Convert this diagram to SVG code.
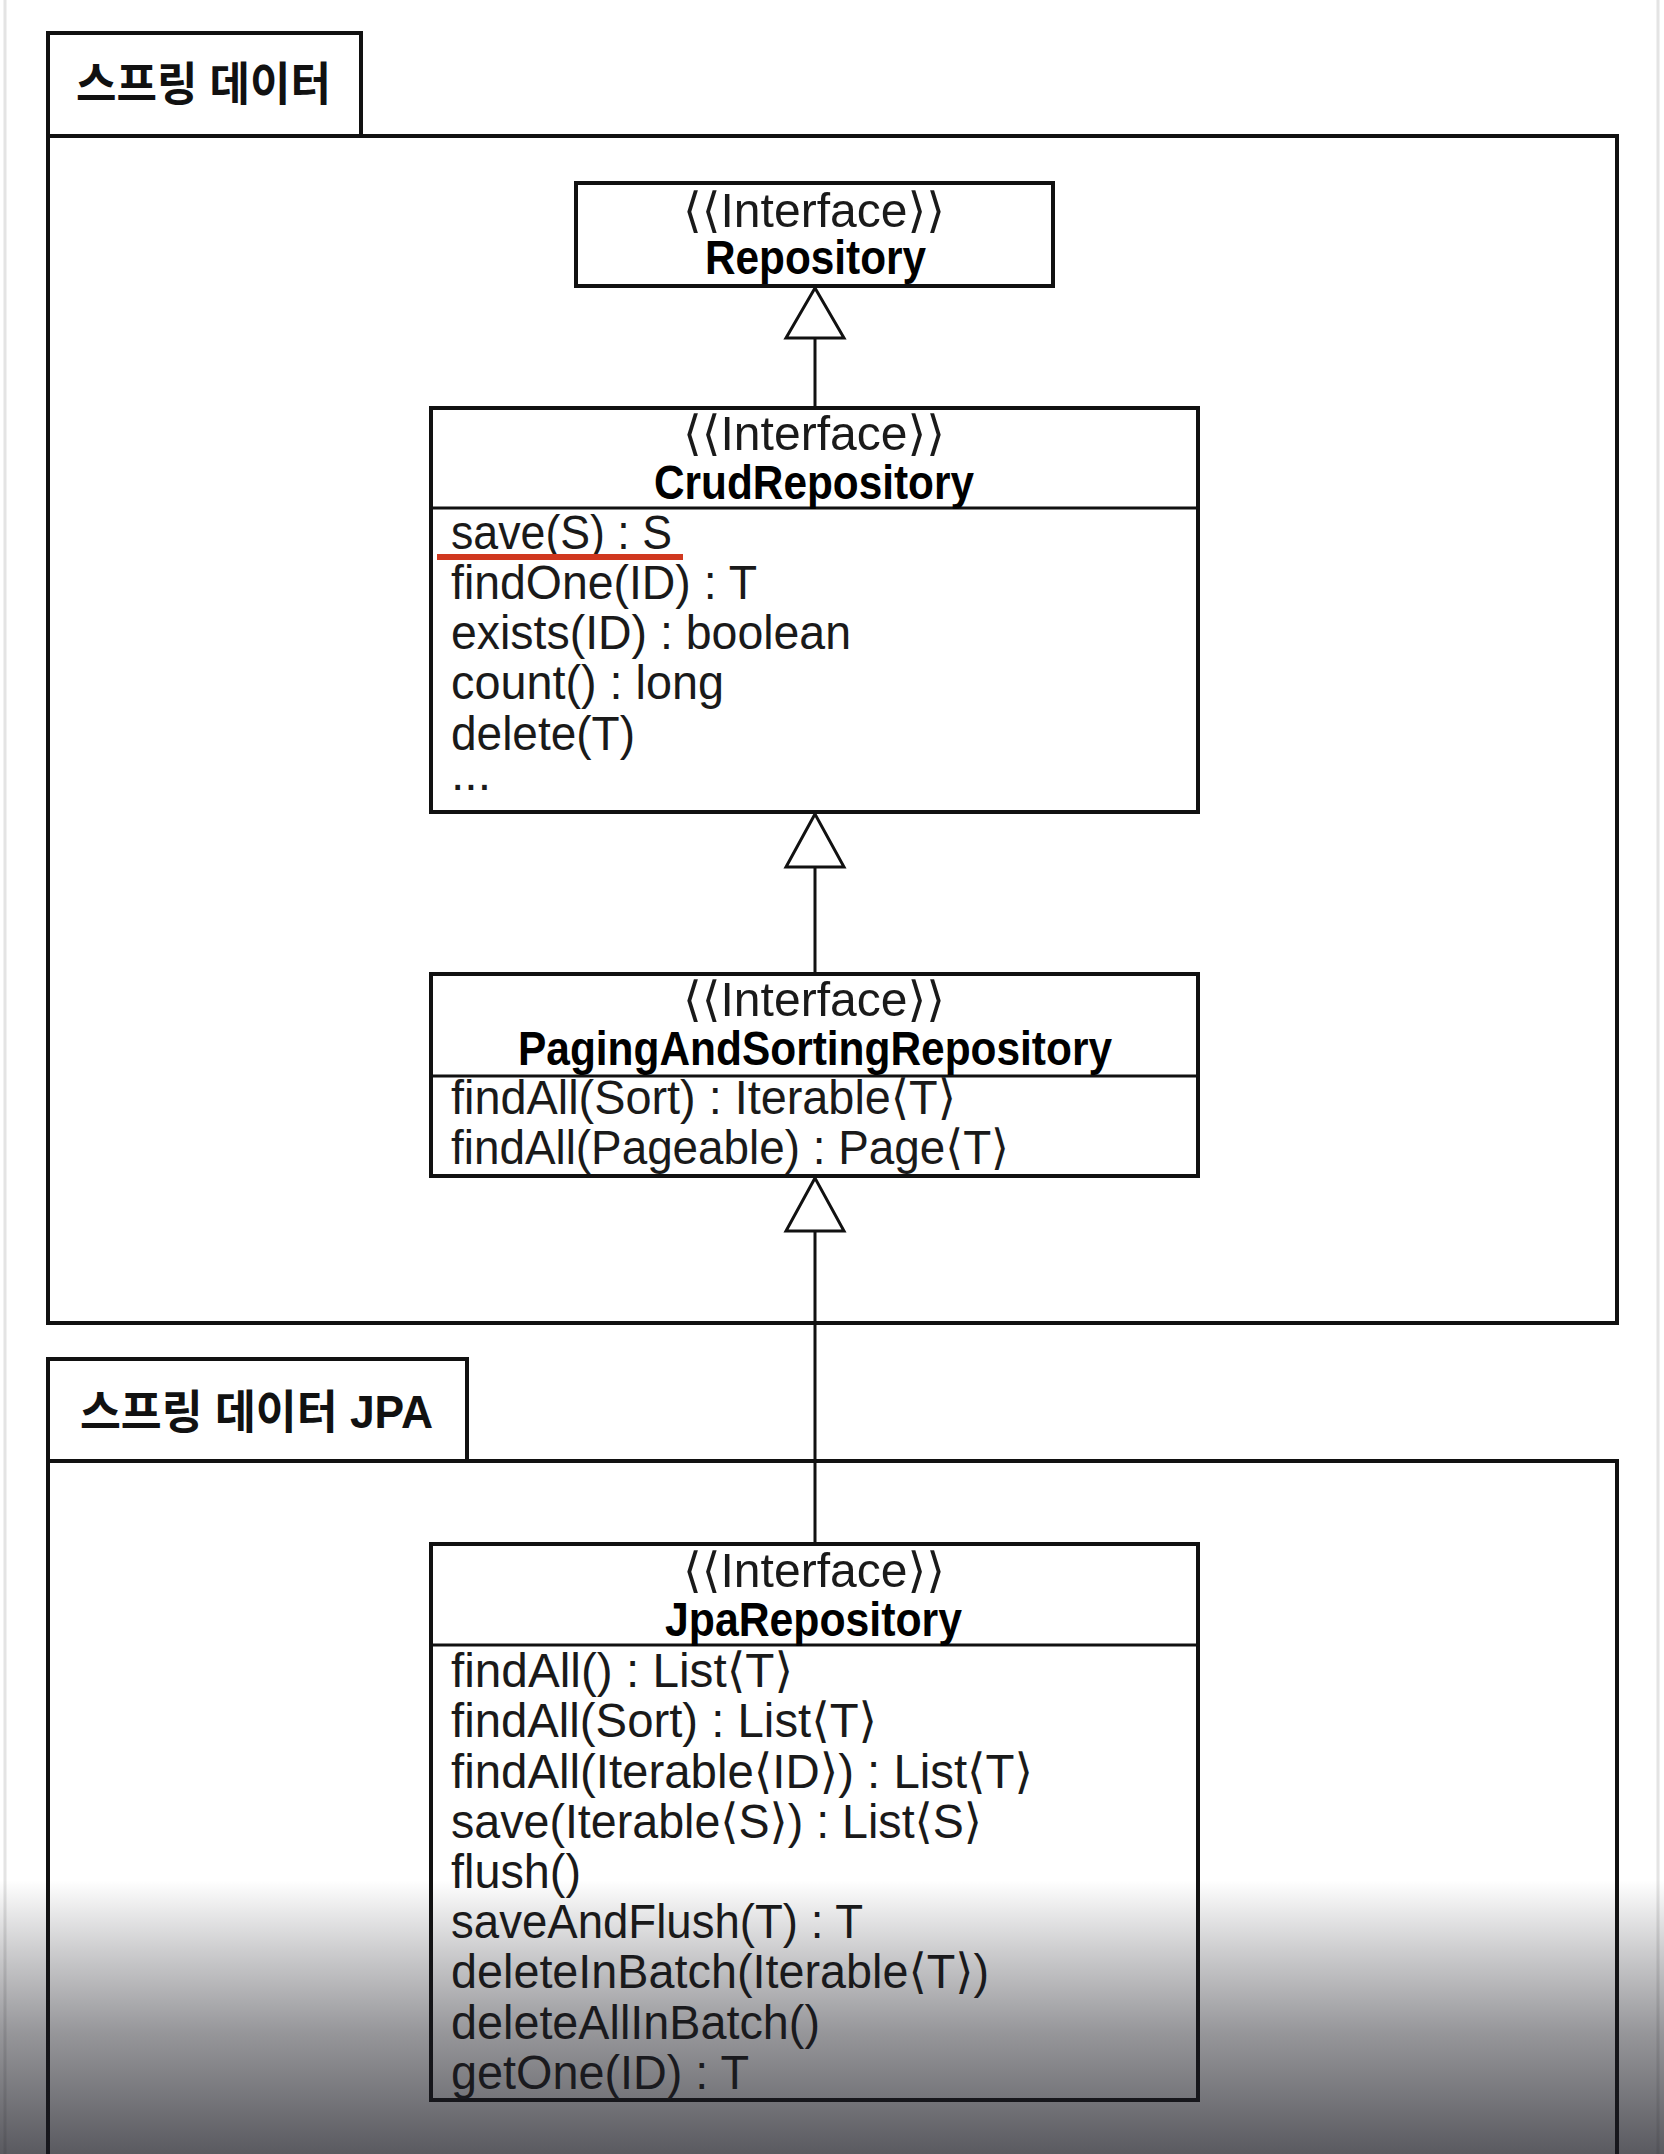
<svg xmlns="http://www.w3.org/2000/svg" width="1664" height="2154" viewBox="0 0 1664 2154">
<style>
.frame{fill:none;stroke:#111;stroke-width:4}
.box{fill:#fff;stroke:#111;stroke-width:4}
.div{stroke:#111;stroke-width:3}
.conn{stroke:#111;stroke-width:3;fill:none}
.tri{fill:#fff;stroke:#111;stroke-width:3;stroke-linejoin:miter}
.ko{font-family:"Liberation Sans","Noto Sans CJK KR",sans-serif;font-weight:bold;font-size:46px;fill:#111}
.st{font-family:"Liberation Sans","DejaVu Sans",sans-serif;font-size:48px;fill:#1a1a1a}
.ti{font-family:"Liberation Sans","DejaVu Sans",sans-serif;font-size:48px;font-weight:bold;fill:#000}
.m{font-family:"Liberation Sans","DejaVu Sans",sans-serif;font-size:48px;fill:#1a1a1a}
</style>
<defs>
<linearGradient id="shade" x1="0" y1="0" x2="0" y2="1">
<stop offset="0" stop-color="#1a1a22" stop-opacity="0"/>
<stop offset="0.26" stop-color="#1a1a22" stop-opacity="0.22"/>
<stop offset="0.56" stop-color="#1a1a22" stop-opacity="0.46"/>
<stop offset="1" stop-color="#1a1a22" stop-opacity="0.72"/>
</linearGradient>
</defs>
<rect x="0" y="0" width="1664" height="2154" fill="#fff"/>
<line x1="5" y1="0" x2="5" y2="2154" stroke="#e4e4e4" stroke-width="3"/>
<line x1="1658" y1="0" x2="1658" y2="2154" stroke="#e4e4e4" stroke-width="3"/>

<g id="pkg-spring-data">
<rect class="frame" x="48" y="33" width="313" height="103"/>
<rect class="frame" x="48" y="136" width="1569" height="1187"/>
<text class="ko" x="76" y="100" textLength="255" lengthAdjust="spacingAndGlyphs">스프링 데이터</text>
</g>

<g id="pkg-spring-data-jpa">
<rect class="frame" x="48" y="1359" width="419" height="102"/>
<path class="frame" d="M48 2160 V1461 H1617 V2160"/>
<text class="ko" x="80" y="1428" textLength="353" lengthAdjust="spacingAndGlyphs">스프링 데이터 JPA</text>
</g>

<g id="connectors">
<line class="conn" x1="815" y1="338" x2="815" y2="408"/>
<polygon class="tri" points="815,288 786,338 844,338"/>
<line class="conn" x1="815" y1="867" x2="815" y2="974"/>
<polygon class="tri" points="815,814 786,867 844,867"/>
<line class="conn" x1="815" y1="1231" x2="815" y2="1544"/>
<polygon class="tri" points="815,1178 786,1231 844,1231"/>
</g>

<g id="node-repository">
<rect class="box" x="576" y="183" width="477" height="103"/>
<text class="st" x="683" y="227" textLength="262" lengthAdjust="spacingAndGlyphs">⟨⟨Interface⟩⟩</text>
<text class="ti" x="705" y="274" textLength="221" lengthAdjust="spacingAndGlyphs">Repository</text>
</g>

<g id="node-crud">
<rect class="box" x="431" y="408" width="767" height="404"/>
<line class="div" x1="431" y1="508" x2="1198" y2="508"/>
<text class="st" x="683" y="450" textLength="262" lengthAdjust="spacingAndGlyphs">⟨⟨Interface⟩⟩</text>
<text class="ti" x="654" y="499" textLength="320" lengthAdjust="spacingAndGlyphs">CrudRepository</text>
<text class="m" x="451" y="549" textLength="221" lengthAdjust="spacingAndGlyphs">save(S) : S</text>
<text class="m" x="451" y="599" textLength="306" lengthAdjust="spacingAndGlyphs">findOne(ID) : T</text>
<text class="m" x="451" y="649" textLength="400" lengthAdjust="spacingAndGlyphs">exists(ID) : boolean</text>
<text class="m" x="451" y="699" textLength="273" lengthAdjust="spacingAndGlyphs">count() : long</text>
<text class="m" x="451" y="750" textLength="184" lengthAdjust="spacingAndGlyphs">delete(T)</text>
<text class="m" x="451" y="790">...</text>
<line x1="437" y1="557" x2="683" y2="557" stroke="#d0381f" stroke-width="6"/>
</g>

<g id="node-paging">
<rect class="box" x="431" y="974" width="767" height="202"/>
<line class="div" x1="431" y1="1076" x2="1198" y2="1076"/>
<text class="st" x="683" y="1016" textLength="262" lengthAdjust="spacingAndGlyphs">⟨⟨Interface⟩⟩</text>
<text class="ti" x="518" y="1065" textLength="594" lengthAdjust="spacingAndGlyphs">PagingAndSortingRepository</text>
<text class="m" x="451" y="1114" textLength="505" lengthAdjust="spacingAndGlyphs">findAll(Sort) : Iterable⟨T⟩</text>
<text class="m" x="451" y="1164" textLength="558" lengthAdjust="spacingAndGlyphs">findAll(Pageable) : Page⟨T⟩</text>
</g>

<g id="node-jpa">
<rect class="box" x="431" y="1544" width="767" height="556"/>
<line class="div" x1="431" y1="1645" x2="1198" y2="1645"/>
<text class="st" x="683" y="1587" textLength="262" lengthAdjust="spacingAndGlyphs">⟨⟨Interface⟩⟩</text>
<text class="ti" x="665" y="1636" textLength="297" lengthAdjust="spacingAndGlyphs">JpaRepository</text>
<text class="m" x="451" y="1687" textLength="342" lengthAdjust="spacingAndGlyphs">findAll() : List⟨T⟩</text>
<text class="m" x="451" y="1737" textLength="426" lengthAdjust="spacingAndGlyphs">findAll(Sort) : List⟨T⟩</text>
<text class="m" x="451" y="1788" textLength="582" lengthAdjust="spacingAndGlyphs">findAll(Iterable⟨ID⟩) : List⟨T⟩</text>
<text class="m" x="451" y="1838" textLength="531" lengthAdjust="spacingAndGlyphs">save(Iterable⟨S⟩) : List⟨S⟩</text>
<text class="m" x="451" y="1888" textLength="130" lengthAdjust="spacingAndGlyphs">flush()</text>
<text class="m" x="451" y="1938" textLength="412" lengthAdjust="spacingAndGlyphs">saveAndFlush(T) : T</text>
<text class="m" x="451" y="1988" textLength="538" lengthAdjust="spacingAndGlyphs">deleteInBatch(Iterable⟨T⟩)</text>
<text class="m" x="451" y="2039" textLength="369" lengthAdjust="spacingAndGlyphs">deleteAllInBatch()</text>
<text class="m" x="451" y="2089" textLength="298" lengthAdjust="spacingAndGlyphs">getOne(ID) : T</text>
</g>

<rect x="0" y="1880" width="1664" height="274" fill="url(#shade)"/>
</svg>
